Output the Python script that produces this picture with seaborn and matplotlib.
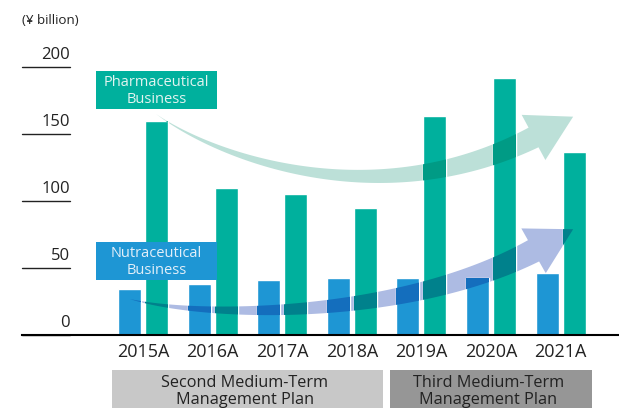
import numpy as np
import pandas as pd
import matplotlib
matplotlib.use("Agg")
import matplotlib.pyplot as plt
import seaborn as sns
from matplotlib.patches import Rectangle, Polygon
from matplotlib.colors import to_rgb

# values (¥ billion)
years = ["2015A", "2016A", "2017A", "2018A", "2019A", "2020A", "2021A"]
nutraceutical = [34, 38, 41, 42, 42, 42, 46]
pharmaceutical = [159.5, 109.5, 105, 94.5, 163, 191.5, 136]
segments = ["Nutraceutical", "Pharmaceutical"]
yticks = [0, 50, 100, 150, 200]
plan_labels = ["Second Medium-Term\nManagement Plan", "Third Medium-Term\nManagement Plan"]
plan_spans = [(0, 3), (4, 6)]  # first / last year index of each plan

teal = "#00b09d"
blue = "#1e96d4"
teal_arrow = "#bce0d8"
blue_arrow = "#adbbe3"

# long table for seaborn
df = pd.DataFrame({
    "year": years * 2,
    "segment": [segments[0]] * len(years) + [segments[1]] * len(years),
    "value": nutraceutical + pharmaceutical,
})

sns.set_style("white")
plt.rcParams["font.family"] = ["Open Sans", "DejaVu Sans"]

fig = plt.figure(figsize=(6.19, 4.08), dpi=100)
ax = fig.add_axes([22 / 619, 73.3 / 408, 597 / 619, 274.7 / 408])

sns.barplot(data=df, x="year", y="value", hue="segment", hue_order=segments,
            palette=[blue, teal], saturation=1, width=0.775, gap=0.148,
            legend=False, ax=ax)
bars = list(ax.patches)

ax.set_xlim(-1.739, 6.839)
ax.set_ylim(0, 205)
ax.set_xlabel("")
ax.set_ylabel("")
ax.set_yticks([])
ax.tick_params(axis="x", length=0, pad=6, labelsize=13, colors="#222222")
for side in ["top", "right", "left"]:
    ax.spines[side].set_visible(False)
ax.spines["bottom"].set_color("black")
ax.spines["bottom"].set_linewidth(1.5)

# short y tick lines with labels sitting on top of them
ytrans = ax.get_yaxis_transform()
for v in yticks:
    ax.plot([0, 0.0804], [v, v], color="#222222", lw=1, transform=ytrans, clip_on=False)
    ax.text(0.0804, v + 5.5, str(v), ha="right", va="baseline", fontsize=12,
            color="#222222", transform=ytrans)

fig.text(22 / 619, 1 - 20.5 / 408, "(¥ billion)", fontsize=9.6, ha="left", va="center",
         color="#222222")


def arrow_polygon(ctrl, tip, max_w, head_w, taper):
    # tapered cubic bezier shaft + triangular head, built in pixels
    pts = ax.transData.transform(np.array(ctrl))
    tip_px = ax.transData.transform(tip)
    s = np.linspace(0, 1, 150)[:, None]
    curve = ((1 - s) ** 3) * pts[0] + 3 * s * (1 - s) ** 2 * pts[1] \
        + 3 * s ** 2 * (1 - s) * pts[2] + s ** 3 * pts[3]
    deriv = 3 * (1 - s) ** 2 * (pts[1] - pts[0]) + 6 * s * (1 - s) * (pts[2] - pts[1]) \
        + 3 * s ** 2 * (pts[3] - pts[2])
    tang = deriv / np.linalg.norm(deriv, axis=1, keepdims=True)
    nrm = np.column_stack([-tang[:, 1], tang[:, 0]])
    w = max_w * s[:, 0] ** taper / 2
    left = curve + nrm * w[:, None]
    right = curve - nrm * w[:, None]
    d = tip_px - pts[3]
    d = d / np.linalg.norm(d)
    n = np.array([-d[1], d[0]])
    h1 = pts[3] + n * head_w / 2
    h2 = pts[3] - n * head_w / 2
    poly = np.vstack([left, h1, tip_px, h2, right[::-1]])
    return ax.transData.inverted().transform(poly)


def draw_arrow(ctrl, tip, color, max_w, taper):
    poly = arrow_polygon(ctrl, tip, max_w, 51, taper)
    ax.add_patch(Polygon(poly, closed=True, facecolor=color, edgecolor="none", zorder=0.5))
    # darker "multiply" look where the arrow crosses the bars
    for bar in bars:
        mult = np.array(bar.get_facecolor()[:3]) * np.array(to_rgb(color))
        p = Polygon(poly, closed=True, facecolor=mult, edgecolor="none", zorder=2.5)
        ax.add_patch(p)
        p.set_clip_path(bar)


draw_arrow([(0.187, 164.7), (1.106, 130.4), (3.405, 89.3), (5.611, 147.2)],
           (6.18, 162.7), teal_arrow, 22, 1.15)
draw_arrow([(-0.187, 26.6), (0.819, 12.5), (3.703, 10.6), (5.611, 62.6)],
           (6.18, 78.7), blue_arrow, 24, 1.0)

# segment label boxes
ax.add_patch(Rectangle((-0.675, 168.4), 1.738, 28.4, facecolor=teal, edgecolor="none", zorder=4))
ax.text(0.194, 182.0, "Pharmaceutical\nBusiness", ha="center", va="center", fontsize=10.5,
        color="#e2f4f0", zorder=5)
ax.add_patch(Rectangle((-0.675, 40.8), 1.738, 28.4, facecolor=blue, edgecolor="none", zorder=4))
ax.text(0.194, 54.4, "Nutraceutical\nBusiness", ha="center", va="center", fontsize=10.5,
        color="#e2eff9", zorder=5)

# medium-term plan boxes under the axis
xtrans = ax.get_xaxis_transform()
for (a, b), label, col in zip(plan_spans, plan_labels, ["#c8c8c8", "#969696"]):
    ax.add_patch(Rectangle((a - 0.445, -0.1285), (b - a) + 0.895, -0.25, facecolor=col,
                           edgecolor="none", transform=xtrans, clip_on=False))
    ax.text((a + b) / 2 - 0.04, -0.145, label, ha="center", va="top", fontsize=11.7,
            linespacing=1.1, color="#222222", transform=xtrans)

plt.savefig("out.png", dpi=100)
